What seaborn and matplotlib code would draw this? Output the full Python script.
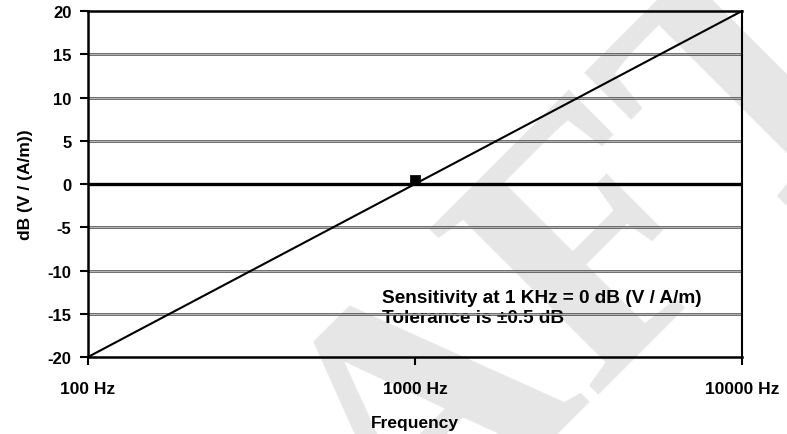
import numpy as np
import pandas as pd
import matplotlib
matplotlib.use("Agg")
import matplotlib.pyplot as plt
import seaborn as sns

# Frequency response of the field sensor (log frequency vs sensitivity)
freq_hz = [100, 10000]
sensitivity_db = [-20, 20]

# Reference point at 1 kHz
ref_freq_hz = [1000]
ref_db = [0.5]

x_ticks = [100, 1000, 10000]
x_tick_labels = ["100 Hz", "1000 Hz", "10000 Hz"]
y_ticks = [-20, -15, -10, -5, 0, 5, 10, 15, 20]

note_lines = ["Sensitivity at 1 KHz = 0 dB (V / A/m)", "Tolerance is \u00b10.5 dB"]

sns.set_style("white")
plt.rcParams["font.family"] = ["Liberation Sans", "DejaVu Sans"]
plt.rcParams["font.weight"] = "bold"
plt.rcParams["text.color"] = "black"
plt.rcParams["axes.labelcolor"] = "black"
plt.rcParams["xtick.color"] = "black"
plt.rcParams["ytick.color"] = "black"

fig = plt.figure(figsize=(7.87, 4.35), dpi=100)
ax = fig.add_axes([0.1118, 0.177, 0.8310, 0.7954])

# Light diagonal watermark behind the plot
fig.text(0.53, -0.03, "DRAFT", family="Liberation Serif", fontsize=260,
         color="#e6e6e6", rotation=45, ha="center", va="center", zorder=-1)
ax.set_facecolor("none")
ax.patch.set_alpha(0)

# Horizontal grid lines drawn as a dark outline with a light core
for yv in y_ticks:
    if yv in (-20, 20):
        continue
    if yv == 0:
        ax.axhline(yv, color="black", lw=2.4, zorder=2)
    else:
        ax.axhline(yv, color="#444444", lw=1.8, zorder=2)
        ax.axhline(yv, color="#c8c8c8", lw=0.6, zorder=2)

df_line = pd.DataFrame({"freq": freq_hz, "db": sensitivity_db})
sns.lineplot(data=df_line, x="freq", y="db", color="black", lw=1.5, ax=ax, zorder=3)

df_ref = pd.DataFrame({"freq": ref_freq_hz, "db": ref_db})
sns.scatterplot(data=df_ref, x="freq", y="db", marker="s", s=45, color="black",
                edgecolor="black", ax=ax, zorder=4)

ax.set_xscale("log")
ax.set_xlim(100, 10000)
ax.set_ylim(-20, 20)
ax.set_xticks(x_ticks)
ax.set_xticklabels(x_tick_labels)
ax.xaxis.set_minor_locator(matplotlib.ticker.NullLocator())
ax.set_yticks(y_ticks)
ax.set_yticklabels([str(v) for v in y_ticks])

ax.tick_params(axis="x", direction="out", length=6, width=1.5, pad=11,
               labelsize=12.5, bottom=True, colors="black")
ax.tick_params(axis="y", direction="out", length=6, width=1.5, pad=6,
               labelsize=12, left=True, colors="black")
for lab in ax.get_xticklabels() + ax.get_yticklabels():
    lab.set_fontweight("bold")

for side in ["top", "bottom", "left", "right"]:
    ax.spines[side].set_visible(True)
    ax.spines[side].set_color("black")
    ax.spines[side].set_linewidth(1.8)
ax.spines["right"].set_linewidth(1.5)

ax.set_xlabel("Frequency", fontsize=12.5, fontweight="bold", labelpad=14, color="black")
ax.set_ylabel("dB (V / (A/m))", fontsize=12.5, fontweight="bold", labelpad=10, color="black")

ax.text(0.4495, 0.159, note_lines[0], transform=ax.transAxes, fontsize=13.7,
        fontweight="bold", ha="left", va="baseline", color="black", zorder=5)
ax.text(0.4495, 0.101, note_lines[1], transform=ax.transAxes, fontsize=13.7,
        fontweight="bold", ha="left", va="baseline", color="black", zorder=1)

fig.savefig("out.png", dpi=100)
